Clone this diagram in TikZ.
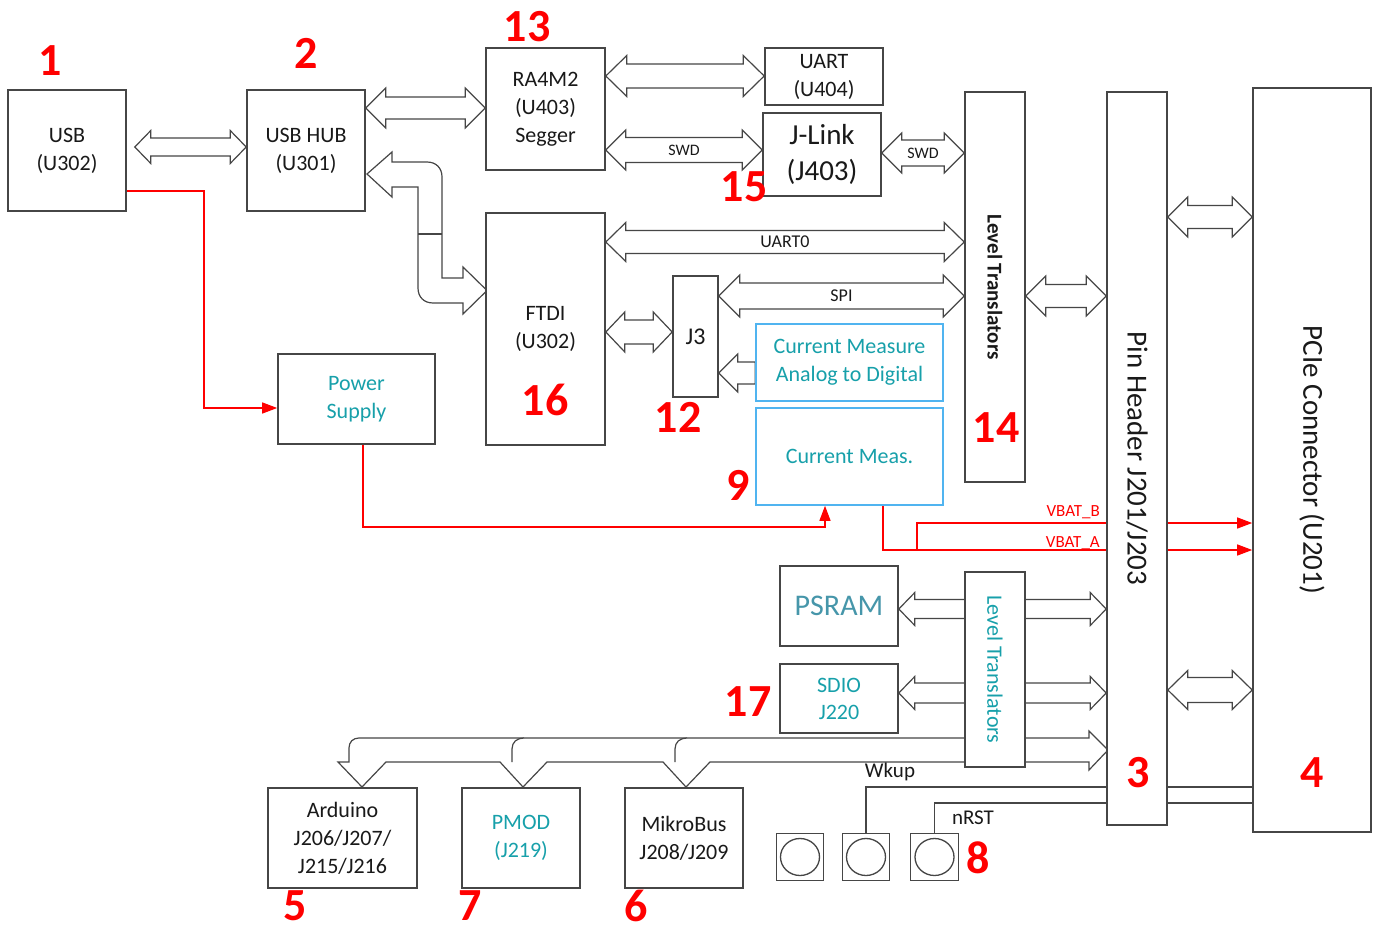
\documentclass[tikz,border=0pt]{standalone}
\usepackage{fontspec}
\setmainfont{Carlito}
\usetikzlibrary{arrows.meta,calc}
\definecolor{boxc}{RGB}{70,70,70}
\definecolor{tealc}{RGB}{23,160,170}
\definecolor{psramc}{RGB}{70,150,170}
\definecolor{lblue}{RGB}{80,180,240}
\definecolor{redc}{RGB}{255,0,0}
\tikzset{
 box/.style={draw=boxc, line width=1.6pt, fill=white, inner sep=0pt, align=center, text=black!90, font=\fontsize{22}{28}\selectfont},
 cbox/.style={box, draw=lblue, text=tealc},
 barrow/.style={draw=boxc, line width=1.2pt, fill=white, line join=miter},
 redline/.style={draw=redc, line width=1.3pt, -{Triangle[length=15pt,width=11pt]}},
 sig/.style={draw=boxc, line width=1.5pt},
 num/.style={text=redc, font=\fontsize{46}{50}\selectfont\bfseries, inner sep=0pt},
 lbl/.style={inner sep=0pt, text=black!90, font=\fontsize{16}{18}\selectfont},
 siglbl/.style={inner sep=0pt, text=black!90, font=\fontsize{21}{24}\selectfont},
 vlbl/.style={inner sep=0pt, text=redc, font=\fontsize{17}{20}\selectfont},
 vtext/.style={inner sep=0pt, rotate=-90},
}
% double block arrow: left point, right point, y, shaft half, head half, head length, label
\newcommand{\hdarrow}[7]{%
\draw[barrow] let \p1=(#1), \p2=(#2), \p3=(0,#3) in
 (\x1,\y3) -- (\x1+#6pt,\y3+#5pt) -- (\x1+#6pt,\y3+#4pt) -- (\x2-#6pt,\y3+#4pt) -- (\x2-#6pt,\y3+#5pt) -- (\x2,\y3) -- (\x2-#6pt,\y3-#5pt) -- (\x2-#6pt,\y3-#4pt) -- (\x1+#6pt,\y3-#4pt) -- (\x1+#6pt,\y3-#5pt) -- cycle
 node[lbl] at ({0.5*\x1+0.5*\x2},\y3) {#7};}
% single block arrow pointing left: tip point, tail point, y, shaft half, head half, head length
\newcommand{\lharrow}[6]{%
\draw[barrow] let \p1=(#1), \p2=(#2), \p3=(0,#3) in
 (\x1,\y3) -- (\x1+#6pt,\y3+#5pt) -- (\x1+#6pt,\y3+#4pt) -- (\x2,\y3+#4pt) -- (\x2,\y3-#4pt) -- (\x1+#6pt,\y3-#4pt) -- (\x1+#6pt,\y3-#5pt) -- cycle;}
\begin{document}
\begin{tikzpicture}[x=1pt,y=-1pt]
\fill[white] (0,0) rectangle (1374,931);
\useasboundingbox (0,0) rectangle (1374,931);

% node positions (boxes drawn later on top)
\path
 (67,150.5) node[box,draw=none,fill=none,minimum width=118pt,minimum height=121pt] (usb) {}
 (306,150.5) node[box,draw=none,fill=none,minimum width=118pt,minimum height=121pt] (hub) {}
 (545.5,109) node[box,draw=none,fill=none,minimum width=119pt,minimum height=122pt] (ra) {}
 (824,76.5) node[box,draw=none,fill=none,minimum width=118pt,minimum height=57pt] (uart) {}
 (822,154.5) node[box,draw=none,fill=none,minimum width=118pt,minimum height=83pt] (jl) {}
 (545.5,329) node[box,draw=none,fill=none,minimum width=119pt,minimum height=232pt] (ftdi) {}
 (695.5,336.5) node[box,draw=none,fill=none,minimum width=45pt,minimum height=121pt] (j3) {}
 (849.5,362.5) node[box,draw=none,fill=none,minimum width=187pt,minimum height=77pt] (cma) {}
 (849.5,456.5) node[box,draw=none,fill=none,minimum width=187pt,minimum height=97pt] (cm) {}
 (995,287) node[box,draw=none,fill=none,minimum width=60pt,minimum height=390pt] (lt1) {}
 (1137,458.5) node[box,draw=none,fill=none,minimum width=60pt,minimum height=733pt] (pinh) {}
 (1312,460) node[box,draw=none,fill=none,minimum width=118pt,minimum height=744pt] (pcie) {}
 (356.5,399) node[box,draw=none,fill=none,minimum width=157pt,minimum height=90pt] (ps) {}
 (839,606) node[box,draw=none,fill=none,minimum width=118pt,minimum height=80pt] (psram) {}
 (839,698.5) node[box,draw=none,fill=none,minimum width=118pt,minimum height=69pt] (sdio) {}
 (995,669.5) node[box,draw=none,fill=none,minimum width=60pt,minimum height=195pt] (lt2) {}
 (342.5,838) node[box,draw=none,fill=none,minimum width=149pt,minimum height=100pt] (ard) {}
 (521,838) node[box,draw=none,fill=none,minimum width=118pt,minimum height=100pt] (pmod) {}
 (684,838) node[box,draw=none,fill=none,minimum width=118pt,minimum height=100pt] (mikro) {}
 (800,857) node[box,draw=none,fill=none,minimum width=47pt,minimum height=47pt] (b1) {}
 (866,857) node[box,draw=none,fill=none,minimum width=47pt,minimum height=47pt] (b2) {}
 (934.5,857) node[box,draw=none,fill=none,minimum width=48pt,minimum height=47pt] (b3) {};

% ---------- connectors ----------
\hdarrow{[xshift=8pt]usb.east}{hub.west}{147}{9}{16.5}{16}{}
\hdarrow{hub.east}{ra.west}{108}{11}{20}{20}{}
\hdarrow{ra.east}{uart.west}{76}{12}{20.5}{21}{}
\hdarrow{ra.east}{jl.west}{150}{12.5}{20}{20}{SWD}
\hdarrow{jl.east}{lt1.west}{153}{13}{20}{20}{SWD}
\hdarrow{ftdi.east}{lt1.west}{242}{11.5}{19.5}{20}{\fontsize{18}{20}\selectfont UART0}
\hdarrow{j3.east}{lt1.west}{296}{13}{21}{21}{\fontsize{18}{20}\selectfont SPI}
\hdarrow{ftdi.east}{j3.west}{332}{12}{20}{19}{}
\lharrow{j3.east}{cma.west}{373}{11}{19}{19}
\hdarrow{lt1.east}{pinh.west}{296}{11.5}{20}{20}{}
\hdarrow{pinh.east}{pcie.west}{217}{11.5}{20}{20}{}
\hdarrow{pinh.east}{pcie.west}{690}{12.5}{19.5}{20}{}
\hdarrow{psram.east}{pinh.west}{609}{9.5}{16.5}{16}{}
\hdarrow{sdio.east}{pinh.west}{693}{10}{16.5}{16}{}

% HUB <-> FTDI bent block arrow
\draw[barrow] (367,174) -- (392,152) -- (392,162) -- (427,162) .. controls (436,162) and (442,168) .. (442,177)
 -- (442,278) -- (463,278) -- (463,267) -- (487,290.5) -- (463,314) -- (463,303) -- (433,303)
 .. controls (424,303) and (418,297) .. (418,288) -- (418,187) -- (392,187) -- (392,197) -- cycle;
\draw[barrow] (418,234) -- (442,234);

% bottom bus with drops
\draw[barrow] (1089,738) -- (359,738) .. controls (353,738) and (349,742) .. (349,748) -- (349,762)
 -- (338,762) -- (362,787) -- (386,762) -- (500,762) -- (523,787) -- (547,762)
 -- (663,762) -- (686,787) -- (710,762) -- (1089,762) -- (1089,770) -- (1108,750) -- (1089,731) -- cycle;
\draw[barrow] (524,738) .. controls (517,738) and (512,742) .. (512,749) -- (512,762);
\draw[barrow] (687,738) .. controls (680,738) and (675,742) .. (675,749) -- (675,762);

% red power lines
\draw[redline] (usb.east |- 0,191) -- (204,191) -- (204,408) -- (ps.west |- 0,408);
\draw[redline] (ps.south -| 363,0) -- (363,527) -- (825,527) -- (cm.south -| 825,0);
\draw[redline] (cm.south -| 883,0) -- (883,550) -- (pcie.west |- 0,550);
\draw[redline] (917,550) -- (917,523) -- (pcie.west |- 0,523);

% signal lines
\draw[sig] (b2.north) |- (pcie.west |- 0,787);
\draw[sig] (b3.north) |- (pcie.west |- 0,803);

% ---------- boxes ----------
\node[box,minimum width=118pt,minimum height=121pt] at (usb) {USB\\(U302)};
\node[box,minimum width=118pt,minimum height=121pt] at (hub) {USB HUB\\(U301)};
\node[box,minimum width=119pt,minimum height=122pt] at (ra) {RA4M2\\(U403)\\Segger};
\node[box,minimum width=118pt,minimum height=57pt] at (uart) {UART\\(U404)};
\node[box,minimum width=118pt,minimum height=83pt,font=\fontsize{29}{36}\selectfont] at (jl) {J-Link\\(J403)};
\node[box,minimum width=119pt,minimum height=232pt] at (ftdi) {FTDI\\(U302)};
\node[box,minimum width=45pt,minimum height=121pt,font=\fontsize{24}{28}\selectfont] at (j3) {J3};
\node[cbox,minimum width=187pt,minimum height=77pt] at (cma) {Current Measure\\Analog to Digital};
\node[cbox,minimum width=187pt,minimum height=97pt] at (cm) {Current Meas.};
\node[box,minimum width=60pt,minimum height=390pt] at (lt1) {};
\node[box,minimum width=60pt,minimum height=733pt] at (pinh) {};
\node[box,minimum width=118pt,minimum height=744pt] at (pcie) {};
\node[box,minimum width=157pt,minimum height=90pt,text=tealc] at (ps) {Power\\Supply};
\node[box,minimum width=118pt,minimum height=80pt,text=psramc,font=\fontsize{30}{34}\selectfont] at (psram) {PSRAM};
\node[box,minimum width=118pt,minimum height=69pt,text=tealc,font=\fontsize{22}{27}\selectfont] at (sdio) {SDIO\\J220};
\node[box,minimum width=60pt,minimum height=195pt] at (lt2) {};
\node[box,minimum width=149pt,minimum height=100pt] at (ard) {Arduino\\J206/J207/\\J215/J216};
\node[box,minimum width=118pt,minimum height=100pt,text=tealc] at (pmod) {PMOD\\(J219)};
\node[box,minimum width=118pt,minimum height=100pt] at (mikro) {MikroBus\\J208/J209};
\node[box,minimum width=47pt,minimum height=47pt] at (b1) {};
\node[box,minimum width=47pt,minimum height=47pt] at (b2) {};
\node[box,minimum width=48pt,minimum height=47pt] at (b3) {};
\draw[boxc,line width=1.3pt] (b1.center) ellipse [x radius=19.5pt, y radius=18.5pt];
\draw[boxc,line width=1.3pt] (b2.center) ellipse [x radius=19.5pt, y radius=18.5pt];
\draw[boxc,line width=1.3pt] (b3.center) ellipse [x radius=19.5pt, y radius=18.5pt];

% rotated texts
\node[vtext,text=black!90,font=\fontsize{21}{24}\selectfont\bfseries] at (lt1.center) {Level Translators};
\node[vtext,text=black!90,font=\fontsize{29}{32}\selectfont] at (pinh.center) {Pin Header J201/J203};
\node[vtext,text=black!90,font=\fontsize{29}{32}\selectfont] at (pcie.center) {PCIe Connector (U201)};
\node[vtext,text=tealc,font=\fontsize{22}{24}\selectfont] at (lt2.center) {Level Translators};

% signal labels
\node[siglbl] at (890,772) {Wkup};
\node[siglbl] at (973,818) {nRST};
\node[vlbl,anchor=east] at (1100,512) {VBAT\_B};
\node[vlbl,anchor=east] at (1100,543) {VBAT\_A};

% red numbers
\node[num] at (50,61) {1};
\node[num] at (306,53) {2};
\node[num] at (527,27) {13};
\node[num] at (744,187) {15};
\node[num] at (545,400) {16};
\node[num] at (678,417) {12};
\node[num] at (738,485) {9};
\node[num] at (996,428) {14};
\node[num] at (1138,773) {3};
\node[num] at (1312,773) {4};
\node[num] at (978,858) {8};
\node[num] at (748,702) {17};
\node[num] at (295,906) {5};
\node[num] at (470,906) {7};
\node[num] at (636,906) {6};
\end{tikzpicture}
\end{document}
